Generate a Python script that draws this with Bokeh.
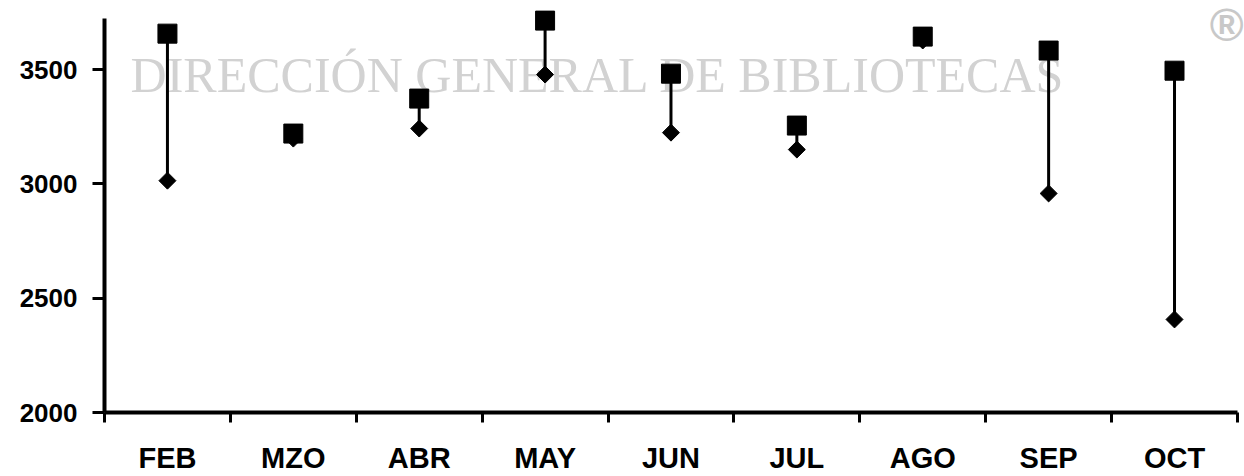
from bokeh.plotting import figure
from bokeh.models import Range1d, FixedTicker, Label, ColumnDataSource
from bokeh.embed import file_html
from bokeh.resources import INLINE

months = ["FEB", "MZO", "ABR", "MAY", "JUN", "JUL", "AGO", "SEP", "OCT"]
high = [3657, 3220, 3373, 3714, 3482, 3255, 3644, 3583, 3495]
low = [3014, 3198, 3242, 3478, 3224, 3150, 3627, 2958, 2407]
y_ticks = [2000, 2500, 3000, 3500]
y_axis_top = 3723

xpos = [i + 0.5 for i in range(len(months))]
src = ColumnDataSource(dict(x=xpos, high=high, low=low, m=months))

p = figure(width=1244, height=476, output_backend="svg", toolbar_location=None,
           x_range=Range1d(0, 9.056), y_range=Range1d(2000, 3802),
           min_border_left=104, min_border_right=0, min_border_top=0, min_border_bottom=64)
p.outline_line_color = None
p.grid.grid_line_color = None
p.background_fill_color = "white"

FONT = "Liberation Sans"

# watermark
p.add_layout(Label(x=0.207, y=3474,
                   text="DIRECCIÓN GENERAL DE BIBLIOTECAS", text_font="Liberation Serif",
                   text_font_size="50px", text_color="#d2d2d2", text_baseline="alphabetic",
                   level="underlay"))
p.add_layout(Label(x=8.915, y=3697,
                   text="®", text_font=FONT, text_font_style="bold",
                   text_font_size="46px", text_color="#c8c8c8", text_align="center",
                   text_baseline="middle"))

p.segment(x0="x", y0="low", x1="x", y1="high", source=src, line_color="black", line_width=3)
p.scatter(x="x", y="low", source=src, marker="square", angle=0.785398, size=12,
          fill_color="black", line_color="black")
p.scatter(x="x", y="high", source=src, marker="square", size=19,
          fill_color="black", line_color="black")

xa = p.xaxis[0]
xa.bounds = (0, len(months))
xa.ticker = FixedTicker(ticks=xpos, minor_ticks=list(range(len(months) + 1)))
xa.major_label_overrides = {x: m for x, m in zip(xpos, months)}
xa.major_tick_line_color = None
xa.major_tick_out = 10
xa.minor_tick_out = 10
xa.minor_tick_in = 0
xa.minor_tick_line_width = 3
xa.minor_tick_line_color = "black"
xa.axis_line_width = 4
xa.axis_line_color = "black"
xa.major_label_standoff = 19
xa.major_label_text_font = FONT
xa.major_label_text_font_style = "bold"
xa.major_label_text_font_size = "29px"
xa.major_label_text_color = "black"

ya = p.yaxis[0]
ya.bounds = (2000, y_axis_top)
ya.ticker = FixedTicker(ticks=y_ticks)
ya.minor_tick_line_color = None
ya.major_tick_out = 12
ya.major_tick_in = 0
ya.major_tick_line_width = 3
ya.major_tick_line_color = "black"
ya.axis_line_width = 4
ya.axis_line_color = "black"
ya.major_label_standoff = 15
ya.major_label_text_font = FONT
ya.major_label_text_font_style = "bold"
ya.major_label_text_font_size = "26px"
ya.major_label_text_color = "black"

open("out.html", "w").write(file_html(p, INLINE))
